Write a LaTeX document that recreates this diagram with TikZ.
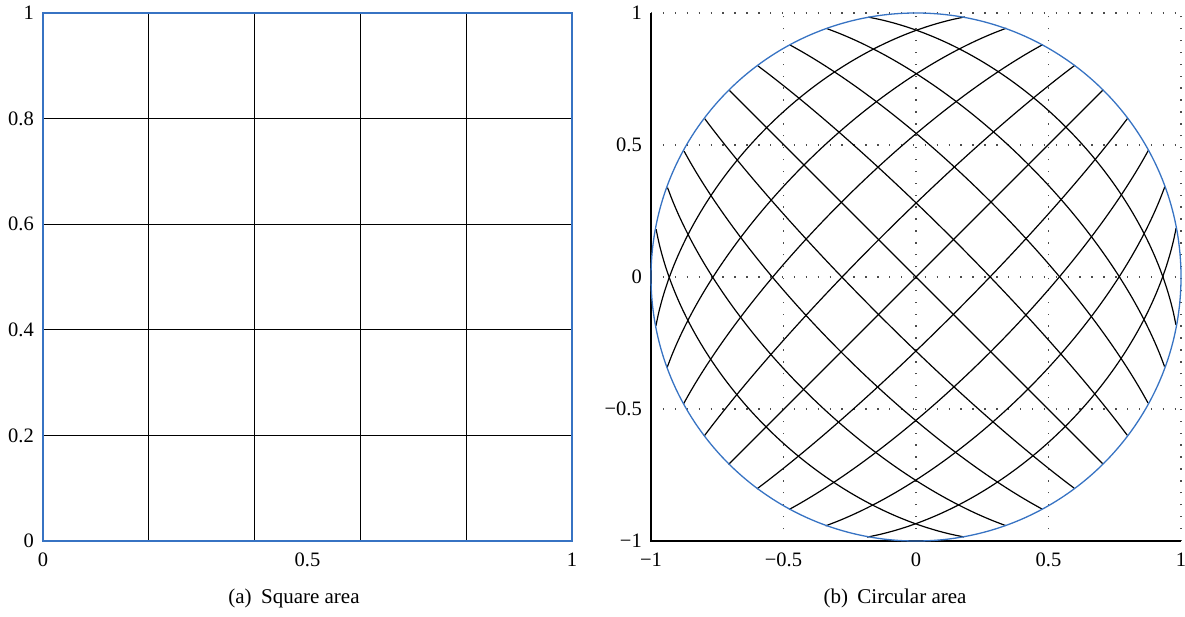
\documentclass[tikz,border=0pt]{standalone}
\usepackage{fontspec}
\setmainfont{Liberation Serif}
\definecolor{bluec}{RGB}{55,115,195}
\begin{document}
\begin{tikzpicture}[x=1pt,y=-1pt,
  gridline/.style={black, line width=1.2pt},
  border/.style={draw=bluec, line width=1.3pt},
  axisline/.style={draw=black, line width=1.3pt},
  dotgrid/.style={draw=black!70, line width=1.4pt, dash pattern=on 1.4pt off 10.5pt},
  ticklab/.style={font=\fontsize{20.5}{23}\selectfont, inner sep=0pt},
  caplab/.style={font=\fontsize{21}{24}\selectfont, inner sep=0pt}]
\useasboundingbox (0,0) rectangle (1185,616);

% ---------- (a) square area ----------
\begin{scope}[shift={(43,541)}, x=529pt, y=528pt]
  \foreach \v in {0.2,0.4,0.6,0.8} {
    \draw[gridline] (\v,0) -- (\v,1);
    \draw[gridline] (0,\v) -- (1,\v);
  }
  \draw[border] (0,0) rectangle (1,1);
  \foreach \v/\t [count=\i] in {0/0,0.2/0.2,0.4/0.4,0.6/0.6,0.8/0.8,1/1}
    \node[ticklab, anchor=east] (aly\i) at ([xshift=-9pt]0,\v) {\t};
  \foreach \v/\t [count=\i] in {0/0,0.5/0.5,1/1}
    \node[ticklab] (alx\i) at ([yshift=-19pt]\v,0) {\t};
\end{scope}
\node[caplab] (capa) at (294,598) {(a)\hspace{0.45em}Square area};

% ---------- (b) circular area ----------
\begin{scope}[shift={(916,277)}, x=265pt, y=264pt]
  \foreach \v in {-0.5,0,0.5,1} {
    \draw[dotgrid] (\v,-1) -- (\v,1);
    \draw[dotgrid] (-1,\v) -- (1,\v);
  }
  \draw[axisline] (-1,1) -- (-1,-1) -- (1,-1);
  \begin{scope}[rotate=45]
    \foreach \k in {-0.8,-0.6,-0.4,-0.2,0,0.2,0.4,0.6,0.8} {
      \draw[gridline] plot[domain=-1:1, samples=41, smooth, variable=\t]
        ({\k*sqrt(1-\t*\t/2)}, {\t*sqrt(1-\k*\k/2)});
      \draw[gridline] plot[domain=-1:1, samples=41, smooth, variable=\t]
        ({\t*sqrt(1-\k*\k/2)}, {\k*sqrt(1-\t*\t/2)});
    }
  \end{scope}
  \draw[border] (0,0) circle[radius=1];
  \foreach \v/\t [count=\i] in {-1/−1,-0.5/−0.5,0/0,0.5/0.5,1/1}
    \node[ticklab, anchor=east] (bly\i) at ([xshift=-9pt]-1,\v) {\t};
  \foreach \v/\t [count=\i] in {-1/−1,-0.5/−0.5,0/0,0.5/0.5,1/1}
    \node[ticklab] (blx\i) at ([yshift=-19pt]\v,-1) {\t};
\end{scope}
\node[caplab] (capb) at (895,598) {(b)\hspace{0.45em}Circular area};
\end{tikzpicture}
\end{document}
